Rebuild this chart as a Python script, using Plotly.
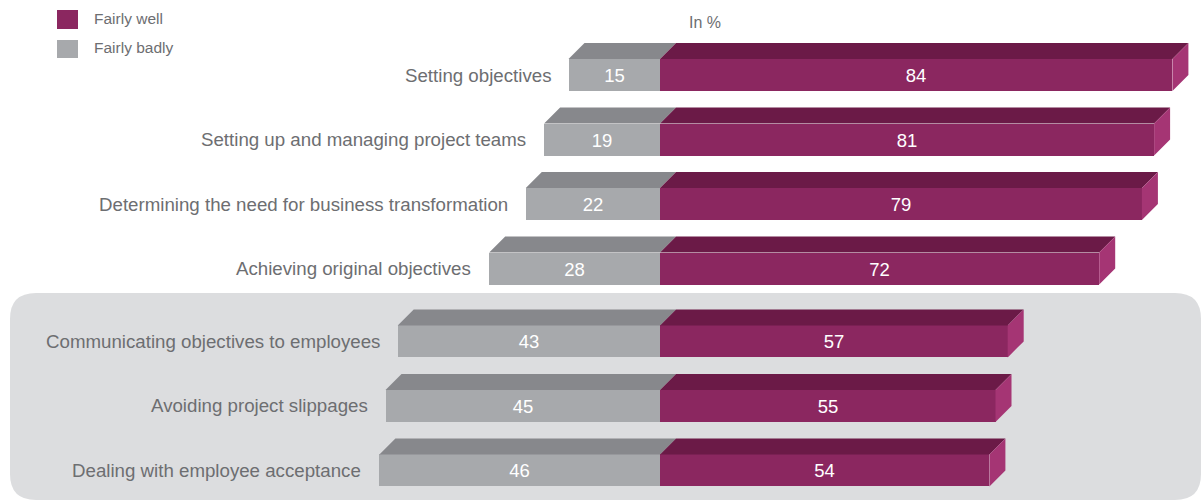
import plotly.graph_objects as go

# Survey answers (in %)
categories = [
    "Setting objectives",
    "Setting up and managing project teams",
    "Determining the need for business transformation",
    "Achieving original objectives",
    "Communicating objectives to employees",
    "Avoiding project slippages",
    "Dealing with employee acceptance",
]
fairly_well = [84, 81, 79, 72, 57, 55, 54]
fairly_badly = [15, 19, 22, 28, 43, 45, 46]
# row positions: first group of four, then a highlighted group of three
row_pos = [0, 1, 2, 3, 4.13, 5.13, 6.13]

W, H = 1202, 501
PX_X = 6.1          # pixels per percentage point
PX_Y = 64.5         # pixels per row unit
ZERO_PX = 660
ROW0_PX = 75

x_range = [-ZERO_PX / PX_X, (W - ZERO_PX) / PX_X]
y_range = [(H - ROW0_PX) / PX_Y, -ROW0_PX / PX_Y]

BAR_W = 32 / PX_Y     # front face height
DEPTH_X = 16 / PX_X   # 3D depth offset
DEPTH_Y = 16 / PX_Y

PURPLE = "#8B2760"
PURPLE_TOP = "#6B1A47"
PURPLE_SIDE = "#A53574"
GRAY = "#A7A9AC"
GRAY_TOP = "#87888C"
PANEL = "#DCDDDF"
TEXT = "#6D6E71"
FONT = "Liberation Sans, Arial, sans-serif"

fig = go.Figure()

# 3D top and side faces, built from the values
def polys(pts_fn, values):
    xs, ys = [], []
    for v, b, y in values:
        px, py = pts_fn(v, b, y)
        xs += px + [px[0], None]
        ys += py + [py[0], None]
    return xs, ys

rows = list(zip(fairly_well, fairly_badly, row_pos))

def gray_top(v, b, y):
    yt = y - BAR_W / 2
    return ([-b, 0, DEPTH_X, -b + DEPTH_X], [yt, yt, yt - DEPTH_Y, yt - DEPTH_Y])

def purple_top(v, b, y):
    yt = y - BAR_W / 2
    return ([0, v, v + DEPTH_X, DEPTH_X], [yt, yt, yt - DEPTH_Y, yt - DEPTH_Y])

def purple_side(v, b, y):
    yt = y - BAR_W / 2
    yb = y + BAR_W / 2
    return ([v, v + DEPTH_X, v + DEPTH_X, v], [yt, yt - DEPTH_Y, yb - DEPTH_Y, yb])

for fn, col in [(gray_top, GRAY_TOP), (purple_top, PURPLE_TOP), (purple_side, PURPLE_SIDE)]:
    xs, ys = polys(fn, rows)
    fig.add_trace(go.Scatter(
        x=xs, y=ys, mode="lines", fill="toself", fillcolor=col,
        line=dict(width=0, color=col), hoverinfo="skip", showlegend=False,
    ))

# Front faces
fig.add_trace(go.Bar(
    name="Fairly badly", orientation="h",
    x=[-b for b in fairly_badly], y=row_pos, width=BAR_W,
    marker=dict(color=GRAY, line=dict(width=0)),
    text=[str(b) for b in fairly_badly], textposition="inside",
    insidetextanchor="middle", textangle=0, constraintext="none",
    textfont=dict(color="white", size=18.5, family=FONT),
    showlegend=False,
))
fig.add_trace(go.Bar(
    name="Fairly well", orientation="h",
    x=fairly_well, y=row_pos, width=BAR_W,
    marker=dict(color=PURPLE, line=dict(width=0)),
    text=[str(v) for v in fairly_well], textposition="inside",
    insidetextanchor="middle", textangle=0, constraintext="none",
    textfont=dict(color="white", size=18.5, family=FONT),
    showlegend=False,
))

annotations = []
# Category labels to the left of each gray bar
for cat, b, y in zip(categories, fairly_badly, row_pos):
    annotations.append(dict(
        x=-b, y=y, xref="x", yref="y", text=cat, showarrow=False,
        xanchor="right", yanchor="middle", xshift=-16,
        font=dict(size=18.7, color=TEXT, family=FONT),
    ))

# Legend
def px(xp):
    return xp / W

def py(yp):
    return 1 - yp / H

shapes = []
legend_items = [("Fairly well", PURPLE, 10, 29), ("Fairly badly", GRAY, 40, 58)]
for label, col, y0, y1 in legend_items:
    shapes.append(dict(type="rect", xref="paper", yref="paper",
                       x0=px(57), x1=px(78), y0=py(y1), y1=py(y0),
                       fillcolor=col, line=dict(width=0), layer="above"))
    annotations.append(dict(
        x=px(92), y=py((y0 + y1) / 2 - 1), xref="paper", yref="paper",
        text=label, showarrow=False, xanchor="left", yanchor="middle",
        font=dict(size=15.5, color=TEXT, family=FONT),
    ))

annotations.append(dict(
    x=px(705), y=py(23), xref="paper", yref="paper", text="In %",
    showarrow=False, xanchor="center", yanchor="middle",
    font=dict(size=16, color=TEXT, family=FONT),
))

# Highlight panel behind the lower group (rounded rectangle)
x0, x1, y0, y1, r = 10, 1201, 293, 500, 26
path = (
    f"M {px(x0 + r)},{py(y0)} L {px(x1 - r)},{py(y0)} "
    f"Q {px(x1)},{py(y0)} {px(x1)},{py(y0 + r)} "
    f"L {px(x1)},{py(y1 - r)} Q {px(x1)},{py(y1)} {px(x1 - r)},{py(y1)} "
    f"L {px(x0 + r)},{py(y1)} Q {px(x0)},{py(y1)} {px(x0)},{py(y1 - r)} "
    f"L {px(x0)},{py(y0 + r)} Q {px(x0)},{py(y0)} {px(x0 + r)},{py(y0)} Z"
)
shapes.append(dict(type="path", xref="paper", yref="paper", path=path,
                   fillcolor=PANEL, line=dict(width=0), layer="below"))

fig.update_layout(
    width=W, height=H,
    margin=dict(l=0, r=0, t=0, b=0),
    paper_bgcolor="white", plot_bgcolor="rgba(0,0,0,0)",
    barmode="overlay", bargap=0,
    xaxis=dict(range=x_range, visible=False, fixedrange=True),
    yaxis=dict(range=y_range, visible=False, fixedrange=True),
    shapes=shapes, annotations=annotations,
    font=dict(family=FONT),
)

fig.write_html("out.html")
